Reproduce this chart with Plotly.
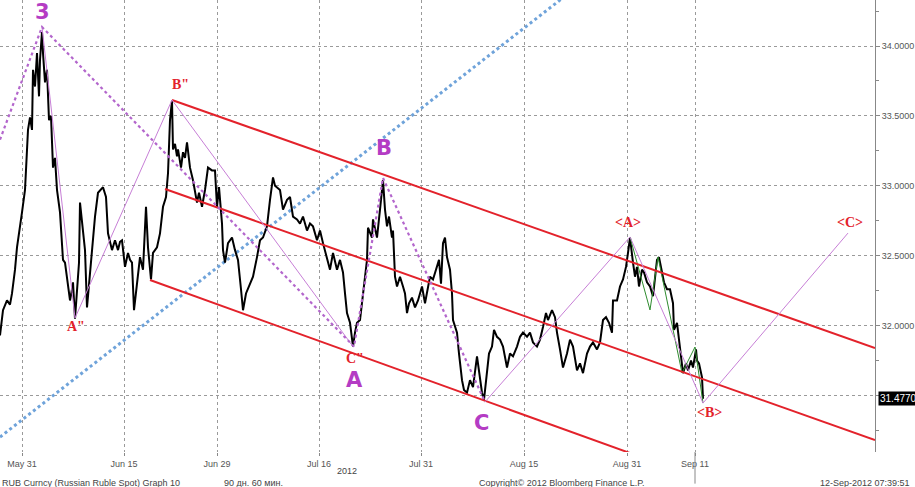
import plotly.graph_objects as go

# ---- x axis: hourly bar index (60-min bars) ----
tick_bars = [22, 124, 217, 319, 421, 524, 627, 695]
tick_labels = ["May 31", "Jun 15", "Jun 29", "Jul 16", "Jul 31", "Aug 15", "Aug 31", "Sep 11"]

# ---- y axis ticks (31.5000 hidden behind last-price tag) ----
y_tickvals = [31.5, 32.0, 32.5, 33.0, 33.5, 34.0]
y_ticktext = ["", "32.0000", "32.5000", "33.0000", "33.5000", "34.0000"]

# ---- RUB price path (close of hourly bars) ----
price_bar = [0, 3, 7, 10, 12, 15, 17, 20, 22, 25, 27, 28, 30, 32, 33, 35, 37, 39, 40, 42, 43, 45, 47, 49, 51, 52, 53, 55,
             57, 60, 62, 63, 65, 67, 70, 72, 73, 75, 77, 79, 80, 82, 84, 85, 87, 89, 92, 95, 98, 101, 103, 106, 108, 110,
             112, 115, 118, 120, 122, 125, 128, 130, 132, 134, 137, 140, 143, 146, 148, 151, 153, 157, 160, 163, 166, 168,
             170, 172, 173, 175, 177, 178, 181, 183, 185, 187, 190, 193, 197, 199, 202, 205, 208, 212, 215, 217, 219, 222,
             223, 225, 228, 232, 235, 238, 241, 243, 246, 250, 253, 257, 260, 263, 267, 270, 273, 275, 277, 280, 283, 287,
             290, 293, 297, 300, 303, 307, 310, 313, 317, 320, 323, 327, 330, 333, 337, 340, 343, 345, 347, 350, 353, 355,
             357, 360, 363, 367, 368, 372, 373, 377, 380, 383, 385, 387, 389, 392, 393, 395, 397, 400, 403, 405, 407, 409,
             412, 415, 418, 422, 425, 427, 430, 433, 437, 439, 441, 443, 445, 447, 450, 452, 453, 457, 459, 462, 464, 467,
             470, 473, 477, 479, 482, 484, 487, 489, 492, 494, 497, 500, 503, 507, 510, 513, 517, 520, 523, 527, 530, 533,
             537, 540, 543, 546, 548, 552, 555, 557, 560, 563, 567, 570, 573, 577, 580, 583, 587, 590, 593, 597, 600, 603,
             606, 609, 612, 613, 617, 620, 623, 626, 628, 630, 633, 635, 637, 639, 642, 644, 647, 650, 653, 655, 657, 659,
             662, 664, 667, 670, 673, 674, 677, 679, 682, 683, 686, 688, 691, 693, 696, 697, 699, 702, 703]
price_val = [31.93, 32.11, 32.18, 32.15, 32.23, 32.40, 32.56, 32.70, 32.81, 32.97, 33.20, 33.40, 33.49, 33.40, 33.83, 33.71,
             33.95, 33.64, 33.90, 34.10, 33.95, 33.74, 33.83, 33.47, 33.50, 33.24, 33.13, 33.20, 32.97, 32.81, 32.60, 32.47,
             32.45, 32.35, 32.18, 32.26, 32.31, 32.05, 32.28, 32.45, 32.88, 32.76, 32.62, 32.54, 32.13, 32.28, 32.56, 32.78,
             32.95, 32.97, 32.99, 32.92, 32.66, 32.60, 32.54, 32.61, 32.54, 32.60, 32.61, 32.42, 32.52, 32.47, 32.45, 32.11,
             32.28, 32.49, 32.40, 32.85, 32.56, 32.33, 32.52, 32.56, 32.66, 32.85, 32.92, 33.09, 33.47, 33.61, 33.26, 33.30,
             33.21, 33.26, 33.13, 33.24, 33.20, 33.31, 33.13, 33.04, 32.88, 32.95, 32.85, 32.97, 33.13, 33.11, 33.11, 32.85,
             32.99, 32.73, 32.54, 32.45, 32.59, 32.63, 32.54, 32.47, 32.26, 32.11, 32.23, 32.30, 32.35, 32.49, 32.61, 32.63,
             32.71, 32.90, 33.06, 33.00, 32.99, 32.97, 32.83, 32.90, 32.92, 32.78, 32.76, 32.73, 32.78, 32.68, 32.73, 32.71,
             32.61, 32.68, 32.59, 32.47, 32.40, 32.52, 32.40, 32.47, 32.38, 32.23, 32.09, 32.02, 31.85, 31.95, 32.02, 32.04,
             32.23, 32.47, 32.70, 32.63, 32.76, 32.63, 32.83, 33.04, 32.83, 32.71, 32.78, 32.63, 32.68, 32.35, 32.28, 32.35,
             32.28, 32.23, 32.09, 32.16, 32.20, 32.13, 32.18, 32.28, 32.16, 32.23, 32.35, 32.33, 32.42, 32.47, 32.30, 32.59,
             32.63, 32.49, 32.40, 32.23, 32.04, 31.95, 31.80, 31.61, 31.54, 31.52, 31.61, 31.56, 31.78, 31.68, 31.52, 31.47,
             31.66, 31.80, 31.85, 31.97, 31.92, 31.90, 31.85, 31.70, 31.80, 31.78, 31.85, 31.92, 31.95, 31.92, 31.95, 31.88,
             31.85, 31.90, 31.99, 32.09, 32.04, 32.11, 32.06, 31.95, 31.83, 31.70, 31.80, 31.90, 31.85, 31.68, 31.73, 31.66,
             31.80, 31.85, 31.88, 31.83, 31.88, 32.04, 32.06, 32.02, 31.95, 32.18, 32.18, 32.28, 32.33, 32.42, 32.52, 32.63,
             32.45, 32.35, 32.42, 32.28, 32.40, 32.38, 32.31, 32.28, 32.21, 32.33, 32.47, 32.49, 32.38, 32.31, 32.26, 32.26,
             32.16, 31.97, 32.02, 31.90, 31.70, 31.66, 31.73, 31.68, 31.75, 31.70, 31.83, 31.75, 31.73, 31.63, 31.477]
last_price = 31.477

# ---- wave annotations (bar, price) ----
wave_dot_bar = [0, 42, 354, 383, 485]
wave_dot_val = [33.33, 34.136, 31.85, 33.056, 31.454]
wave1_bar = [42, 75, 172, 353]
wave1_val = [34.136, 32.054, 33.614, 31.85]
wave2_bar = [485, 630, 703, 848]
wave2_val = [31.454, 32.634, 31.446, 32.662]
sub_bar = [630, 650, 658, 682, 695, 703]
sub_val = [32.634, 32.112, 32.491, 31.661, 31.847, 31.446]

# ---- channel lines ----
ch_upper_bar = [172, 875]
ch_upper_val = [33.614, 31.840]
ch_mid_bar = [165, 875]
ch_mid_val = [32.977, 31.182]
ch_low_bar = [150, 660]
ch_low_val = [32.326, 31.011]
trend_bar = [0, 600]
trend_val = [31.203, 34.552]

# ---- labels ----
purple_labels = ["3", "A", "B", "C"]
purple_bar = [42, 354, 384, 481]
purple_val = [34.243, 31.611, 33.270, 31.303]
red_labels = ['B"', 'A"', 'C"', "<A>", "<B>", "<C>"]
red_bar = [180, 76, 355, 628, 709, 850]
red_val = [33.728, 31.997, 31.768, 32.741, 31.375, 32.734]

y_range = [31.096, 34.329]
x_range = [0, 875]

PURPLE = "#B43CC4"
RED = "#E3222B"

fig = go.Figure()
fig.add_trace(go.Scatter(x=trend_bar, y=trend_val, mode="lines",
                         line=dict(color="#6FA3DA", width=3, dash="dot"), hoverinfo="skip"))
fig.add_trace(go.Scatter(x=price_bar, y=price_val, mode="lines",
                         line=dict(color="#000000", width=2), name="RUB"))
fig.add_trace(go.Scatter(x=sub_bar, y=sub_val, mode="lines",
                         line=dict(color="#2E8B2E", width=1), hoverinfo="skip"))
for xb, yv in [(ch_upper_bar, ch_upper_val), (ch_mid_bar, ch_mid_val), (ch_low_bar, ch_low_val)]:
    fig.add_trace(go.Scatter(x=xb, y=yv, mode="lines", line=dict(color=RED, width=2), hoverinfo="skip"))
fig.add_trace(go.Scatter(x=wave1_bar, y=wave1_val, mode="lines",
                         line=dict(color="#C77FD6", width=1), hoverinfo="skip"))
fig.add_trace(go.Scatter(x=wave2_bar, y=wave2_val, mode="lines",
                         line=dict(color="#C77FD6", width=1), hoverinfo="skip"))
fig.add_trace(go.Scatter(x=wave_dot_bar, y=wave_dot_val, mode="lines",
                         line=dict(color="#B366CC", width=2.2, dash="dot"), hoverinfo="skip"))

for t, xb, yv in zip(purple_labels, purple_bar, purple_val):
    fig.add_annotation(x=xb, y=yv, text="<b>" + t + "</b>", showarrow=False,
                       font=dict(family="DejaVu Sans", size=21, color=PURPLE))
for t, xb, yv in zip(red_labels, red_bar, red_val):
    fig.add_annotation(x=xb, y=yv, text="<b>" + t.replace("<", "&lt;").replace(">", "&gt;") + "</b>",
                       showarrow=False, font=dict(family="Liberation Serif", size=14, color=RED))

# last price tag
fig.add_annotation(x=1.0, xref="paper", y=last_price, text="31.4770", showarrow=False,
                   xanchor="left", xshift=3, bgcolor="#000000",
                   font=dict(family="Liberation Sans", size=10, color="#FFFFFF"), borderpad=1)

# footer texts
foot = dict(family="Liberation Sans", size=9, color="#444444")
fig.add_annotation(x=347, y=-0.027, yref="paper", text="2012", showarrow=False, font=foot, yanchor="top")
fig.add_annotation(x=0.0, xref="paper", y=-0.052, yref="paper", text="RUB Curncy (Russian Ruble Spot) Graph 10",
                   showarrow=False, xanchor="left", yanchor="top", font=foot)
fig.add_annotation(x=0.254, xref="paper", y=-0.052, yref="paper", text="90 дн. 60 мин.",
                   showarrow=False, xanchor="left", yanchor="top", font=foot)
fig.add_annotation(x=0.545, xref="paper", y=-0.052, yref="paper", text="Copyright© 2012 Bloomberg Finance L.P.",
                   showarrow=False, xanchor="left", yanchor="top", font=foot)
fig.add_annotation(x=1.0425, xref="paper", y=-0.052, yref="paper", text="12-Sep-2012 07:39:51",
                   showarrow=False, xanchor="right", yanchor="top", font=foot)

fig.add_shape(type="line", x0=695, x1=695, xref="x", y0=0, y1=-0.07, yref="paper",
              line=dict(color="#888888", width=1))

fig.update_layout(
    width=915, height=487,
    margin=dict(l=0, r=40, t=0, b=35, autoexpand=False),
    paper_bgcolor="white", plot_bgcolor="white",
    showlegend=False,
    xaxis=dict(range=x_range, tickvals=tick_bars, ticktext=tick_labels, showgrid=True,
               gridcolor="#9A9A9A", griddash="dot", gridwidth=1, zeroline=False,
               ticks="outside", ticklen=3, tickcolor="#888888", ticklabelstandoff=0,
               tickfont=dict(family="Liberation Sans", size=9, color="#555555"),
               showline=False, fixedrange=True, automargin=False),
    yaxis=dict(range=y_range, side="right", tickvals=y_tickvals, ticktext=y_ticktext,
               showgrid=True, gridcolor="#9A9A9A", griddash="dot", gridwidth=1,
               zeroline=False, ticks="outside", ticklen=4, tickcolor="#888888",
               tickfont=dict(family="Liberation Sans", size=9, color="#555555"),
               showline=True, linecolor="#888888", linewidth=1, automargin=False,
               minor=dict(tickvals=[31.25, 31.75, 32.25, 32.75, 33.25, 33.75, 34.25], ticks="outside",
                          ticklen=3, tickcolor="#888888", showgrid=False),
               fixedrange=True),
)

fig.write_html("out.html", config={"displayModeBar": False},
               post_script="document.body.style.margin='0px';document.body.style.overflow='hidden';")
